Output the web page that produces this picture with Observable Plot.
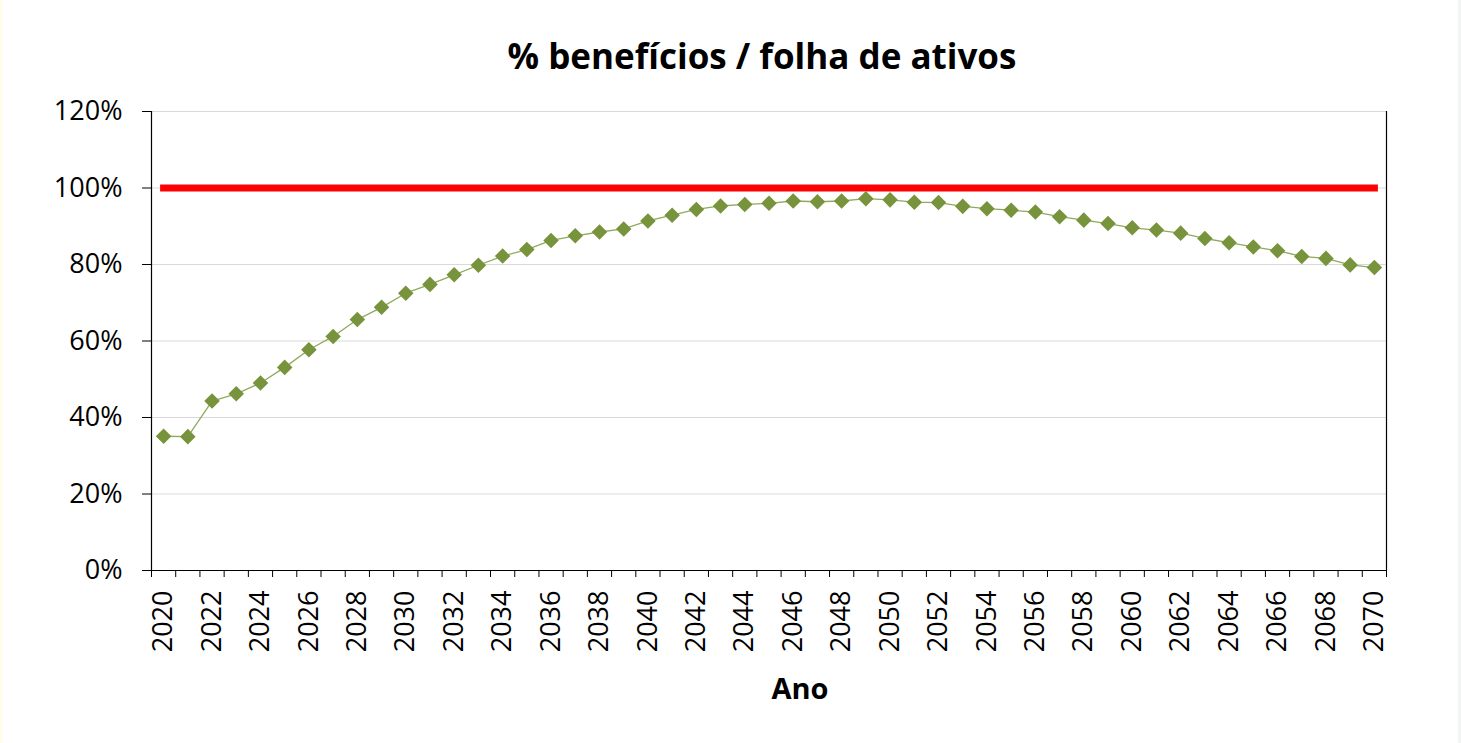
<!DOCTYPE html>
<html><head><meta charset="utf-8">
<script src="https://cdn.jsdelivr.net/npm/d3@7"></script>
<script src="https://cdn.jsdelivr.net/npm/@observablehq/plot@0.6"></script>
<style>
html,body{margin:0;padding:0;background:#fff;}
body{width:1461px;height:743px;overflow:hidden;position:relative;font-family:"Open Sans",sans-serif;}
#strip{position:absolute;left:0;top:0;width:3px;height:743px;background:#FFFDEB;}
#rstrip{position:absolute;left:1458px;top:0;width:3px;height:743px;background:#F3F5F4;}
#title{position:absolute;left:262px;width:1000px;top:34px;text-align:center;font-weight:700;font-size:35px;line-height:44px;color:#000;}
#chart{position:absolute;left:0;top:90px;}
#xlabel{position:absolute;left:700px;width:200px;top:670px;text-align:center;font-weight:700;font-size:29px;line-height:36px;color:#000;}
</style></head>
<body>
<div id="strip"></div><div id="rstrip"></div>
<div id="title">% benefícios / folha de ativos</div>
<div id="chart"></div>
<div id="xlabel">Ano</div>
<script>
const years = [2020,2021,2022,2023,2024,2025,2026,2027,2028,2029,
  2030,2031,2032,2033,2034,2035,2036,2037,2038,2039,
  2040,2041,2042,2043,2044,2045,2046,2047,2048,2049,
  2050,2051,2052,2053,2054,2055,2056,2057,2058,2059,
  2060,2061,2062,2063,2064,2065,2066,2067,2068,2069,2070];
const beneficios = [35.1,35.0,44.3,46.2,49.0,53.1,57.7,61.2,65.6,68.8,
  72.5,74.8,77.3,79.8,82.2,83.9,86.3,87.5,88.5,89.3,
  91.4,92.9,94.4,95.3,95.7,96.0,96.6,96.4,96.6,97.2,
  96.9,96.3,96.2,95.2,94.6,94.2,93.7,92.5,91.6,90.7,
  89.6,89.0,88.2,86.8,85.7,84.6,83.6,82.1,81.6,79.9,79.2];
const limite = [100,100,100,100,100,100,100,100,100,100,
  100,100,100,100,100,100,100,100,100,100,
  100,100,100,100,100,100,100,100,100,100,
  100,100,100,100,100,100,100,100,100,100,
  100,100,100,100,100,100,100,100,100,100,100];
const yTicks = [0,20,40,60,80,100,120];
const xLabelYears = [2020,2022,2024,2026,2028,2030,2032,2034,2036,2038,2040,2042,2044,2046,2048,2050,2052,2054,2056,2058,2060,2062,2064,2066,2068,2070];

const data = years.map((y,i)=>({year:y, pct:beneficios[i]}));
const refData = years.map((y,i)=>({year:y, ref:limite[i]}));
const boundaries = years.map(y=>y-0.5).concat([years[years.length-1]+0.5]);

const chart = Plot.plot({
  width:1461, height:575,
  marginLeft:151, marginRight:75, marginTop:21, marginBottom:95,
  style:{fontFamily:'"Open Sans", sans-serif', fontSize:"27px", color:"#000", background:"transparent", overflow:"visible"},
  x:{type:"linear", domain:[years[0]-0.5, years[years.length-1]+0.5]},
  y:{domain:[0,120]},
  marks:[
    Plot.gridY(yTicks.filter(d=>d>0), {stroke:"#D9D9D9", strokeOpacity:1, strokeWidth:1}),
    Plot.ruleX([boundaries[boundaries.length-1]], {stroke:"#000", strokeWidth:1.2}),
    Plot.axisY({ticks:yTicks, tickFormat:d=>d+"%", tickSize:9, tickPadding:20, label:null, stroke:"#000"}),
    Plot.axisX({ticks:boundaries, tickSize:7, tickFormat:()=>"", label:null, stroke:"#000"}),
    Plot.axisX({ticks:xLabelYears, tickSize:0, tickRotate:-90, tickPadding:20, label:null, tickFormat:d=>String(d)}),
    Plot.ruleY([0], {stroke:"#000", strokeWidth:1.2}),
    Plot.ruleX([boundaries[0]], {stroke:"#000", strokeWidth:1.2}),
    Plot.lineY(data, {x:"year", y:"pct", stroke:"#8FAA5C", strokeWidth:1.3}),
    Plot.lineY(refData, {x:"year", y:"ref", stroke:"#FF0000", strokeWidth:7, strokeLinecap:"square"}),
    Plot.dot(data, {x:"year", y:"pct", symbol:"diamond2", r:7, fill:"#77933C", stroke:"none"})
  ]
});
document.getElementById("chart").appendChild(chart);
</script>
</body></html>
